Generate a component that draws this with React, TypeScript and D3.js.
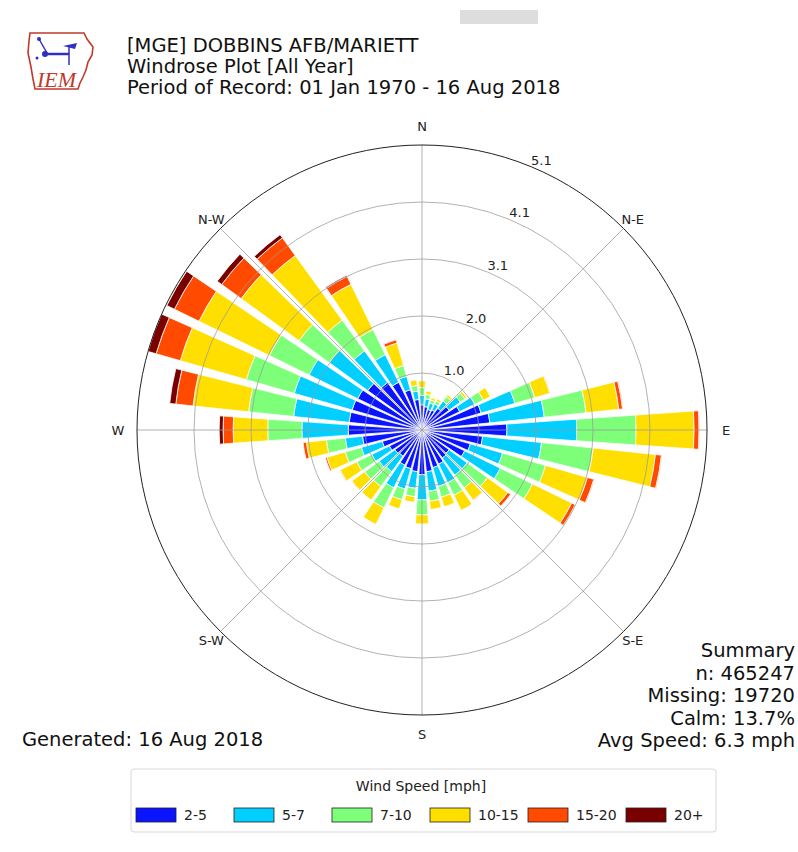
import * as d3 from 'd3';

// compass direction (deg) of each bar
const directions = [0, 10, 20, 30, 40, 50, 60, 70, 80, 90, 100, 110, 120, 130, 140, 150, 160, 170,
  180, 190, 200, 210, 220, 230, 240, 250, 260, 270, 280, 290, 300, 310, 320, 330, 340, 350];

// frequency (%) per speed bin, one value per direction
const speed2to5 = [0.45, 0.42, 0.38, 0.40, 0.48, 0.60, 0.75, 1.10, 1.22, 1.52, 1.09, 0.90, 0.85, 0.60, 0.62, 0.68, 0.70, 0.75,
  0.80, 0.75, 0.72, 0.70, 0.58, 0.60, 0.65, 0.74, 1.07, 1.32, 1.31, 1.30, 1.28, 1.20, 1.05, 0.95, 0.75, 0.55];
const speed5to7 = [0.17, 0.14, 0.12, 0.12, 0.16, 0.25, 0.30, 0.63, 0.98, 1.25, 1.06, 0.60, 0.71, 0.40, 0.38, 0.37, 0.35, 0.35,
  0.45, 0.30, 0.38, 0.45, 0.34, 0.35, 0.35, 0.39, 0.31, 0.83, 1.00, 1.08, 0.97, 0.85, 0.70, 0.55, 0.25, 0.15];
const speed7to10 = [0.14, 0.08, 0.06, 0.06, 0.10, 0.10, 0.17, 0.37, 0.75, 1.06, 0.93, 0.80, 0.64, 0.45, 0.28, 0.25, 0.20, 0.18,
  0.27, 0.15, 0.20, 0.40, 0.33, 0.32, 0.30, 0.30, 0.34, 0.61, 0.81, 0.89, 0.79, 0.67, 0.68, 0.50, 0.20, 0.10];
const speed10to15 = [0.12, 0.06, 0.04, 0.04, 0.04, 0.04, 0.14, 0.28, 0.59, 1.04, 1.12, 0.78, 0.78, 0.45, 0.27, 0.30, 0.18, 0.15,
  0.16, 0.10, 0.17, 0.33, 0.30, 0.28, 0.33, 0.34, 0.36, 0.62, 1.00, 1.23, 1.40, 1.28, 1.43, 0.90, 0.42, 0.10];
const speed15to20 = [0, 0, 0, 0, 0, 0, 0, 0.01, 0.07, 0.09, 0.11, 0.12, 0.07, 0.06, 0.01, 0, 0, 0,
  0, 0, 0, 0, 0, 0.01, 0.01, 0.03, 0.06, 0.18, 0.31, 0.45, 0.49, 0.43, 0.39, 0.16, 0.06, 0];
const speed20plus = [0, 0, 0, 0, 0, 0, 0, 0, 0.01, 0.01, 0.01, 0.01, 0, 0, 0, 0, 0, 0,
  0, 0, 0, 0, 0, 0, 0, 0, 0, 0.07, 0.11, 0.15, 0.15, 0.10, 0.07, 0.02, 0.01, 0];

const binLabels = ['2-5', '5-7', '7-10', '10-15', '15-20', '20+'];
const binColors = ['#0a14ff', '#00cfff', '#7dff7a', '#ffdf00', '#ff4a00', '#7a0000'];
const compassLabels = ['N', 'N-E', 'E', 'S-E', 'S', 'S-W', 'W', 'N-W'];
const rMax = 5.1;

const titleLines = ['[MGE] DOBBINS AFB/MARIETT', 'Windrose Plot [All Year]', 'Period of Record: 01 Jan 1970 - 16 Aug 2018'];
const summaryLines = ['Summary', 'n: 465247', 'Missing: 19720', 'Calm: 13.7%', 'Avg Speed: 6.3 mph'];

const W = 798;
const H = 852;
const cx = 422;
const cy = 430;
const R = 285;
const font = 'DejaVu Sans, sans-serif';

function App() {
  const bins = [speed2to5, speed5to7, speed7to10, speed10to15, speed15to20, speed20plus];
  const rows = directions.map((d, i) => {
    const row: Record<string, number> = { dir: d };
    bins.forEach((b, k) => (row[binLabels[k]] = b[i]));
    return row;
  });
  const series = d3.stack<Record<string, number>>().keys(binLabels)(rows);

  const r = d3.scaleLinear().domain([0, rMax]).range([0, R]);
  const half = (4 * Math.PI) / 180;
  const arc = d3.arc<any>();
  const toRad = (deg: number) => (deg * Math.PI) / 180;

  const ringVals = d3.range(1, 6).map((k) => (rMax * k) / 5);
  const fmt = d3.format('.1f');

  return (
    <svg width={W} height={H} style={{ position: 'absolute', left: 0, top: 0, background: '#fff' }} fontFamily={font}>
      <rect x={460} y={10} width={78} height={14} fill="#dddddd" />

      {/* IEM logo */}
      <g transform="translate(27,31)">
        <path
          d="M3,2 L57,2 L60,8 L66,16 L65,24 L61,31 L59,39 L56,46 L53,52 L51,58 L8,58 L6,48 L4,36 L1,22 L2,10 Z"
          fill="none" stroke="#c0392b" strokeWidth={1.6}
        />
        <line x1={12} y1={8} x2={20} y2={22} stroke="#3030c0" strokeWidth={1.5} />
        <circle cx={12} cy={8} r={2} fill="#3030c0" />
        <line x1={16} y1={23} x2={42} y2={23} stroke="#3030c0" strokeWidth={2.5} />
        <circle cx={18} cy={23} r={3} fill="#3030c0" />
        <line x1={42} y1={14} x2={42} y2={34} stroke="#3030c0" strokeWidth={1.5} />
        <path d="M36,15 L50,12 L48,18 Z" fill="#3030c0" />
        <circle cx={10} cy={27} r={1.5} fill="#3030c0" />
        <text x={10} y={56} fontFamily="Liberation Serif, serif" fontStyle="italic" fontSize={22} fill="#c0392b">IEM</text>
      </g>

      {titleLines.map((t, i) => (
        <text key={t} x={127} y={52 + i * 21} fontSize={19.5} fill="#111">{t}</text>
      ))}

      <g transform={`translate(${cx},${cy})`}>
        {series.map((s, k) => (
          <g key={s.key}>
            {s.map((d, i) => {
              if (d[1] - d[0] <= 0) return null;
              const a = toRad(directions[i]);
              return (
                <path
                  key={i}
                  d={arc({ innerRadius: r(d[0]), outerRadius: r(d[1]), startAngle: a - half, endAngle: a + half }) || ''}
                  fill={binColors[k]}
                  stroke="#fff"
                  strokeWidth={0.8}
                />
              );
            })}
          </g>
        ))}

        {ringVals.slice(0, 4).map((v) => (
          <circle key={v} r={r(v)} fill="none" stroke="#9a9a9a" strokeOpacity={0.85} strokeWidth={0.9} />
        ))}
        {compassLabels.map((_, i) => {
          const a = toRad(i * 45);
          return (
            <line key={i} x1={0} y1={0} x2={R * Math.sin(a)} y2={-R * Math.cos(a)} stroke="#9a9a9a" strokeOpacity={0.85} strokeWidth={0.9} />
          );
        })}
        <circle r={R} fill="none" stroke="#222" strokeWidth={1} />

        {ringVals.map((v) => {
          const a = toRad(22.5);
          return (
            <text key={v} x={r(v) * Math.sin(a)} y={-r(v) * Math.cos(a) - 2} fontSize={13} fill="#222">{fmt(v)}</text>
          );
        })}

        {compassLabels.map((lab, i) => {
          const a = toRad(i * 45);
          const rr = i % 2 === 0 ? R + 19 : R + 13;
          return (
            <text key={lab} x={rr * Math.sin(a)} y={-rr * Math.cos(a)} fontSize={13} fill="#222"
              textAnchor="middle" dominantBaseline="central">{lab}</text>
          );
        })}
      </g>

      <text x={22} y={746} fontSize={19.5} fill="#111">Generated: 16 Aug 2018</text>
      {summaryLines.map((t, i) => (
        <text key={t} x={795} y={657 + i * 22.5} fontSize={19.5} fill="#111" textAnchor="end">{t}</text>
      ))}

      {/* legend */}
      <g>
        <rect x={131} y={769} width={585} height={63} rx={3} fill="#fff" stroke="#d8d8d8" />
        <text x={421} y={791} fontSize={14} textAnchor="middle" fill="#222">Wind Speed [mph]</text>
        {binLabels.map((lab, k) => (
          <g key={lab} transform={`translate(${136 + k * 98},808)`}>
            <rect width={40} height={14} fill={binColors[k]} stroke="#222" strokeWidth={0.8} />
            <text x={48} y={12} fontSize={14} fill="#222">{lab}</text>
          </g>
        ))}
      </g>
    </svg>
  );
}

export default App;
